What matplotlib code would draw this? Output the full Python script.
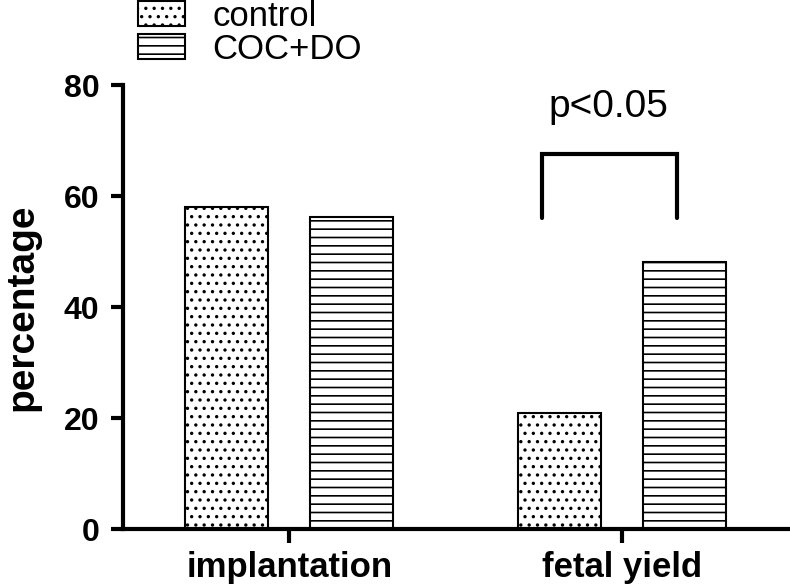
import matplotlib.pyplot as plt
from matplotlib.patches import Patch

# Data
categories = ['implantation', 'fetal yield']
control = [58.0, 20.9]
coc_do = [56.2, 48.1]
series_labels = ['control', 'COC+DO']
y_ticks = [0, 20, 40, 60, 80]

plt.rcParams['font.family'] = ['Liberation Sans', 'DejaVu Sans']
plt.rcParams['hatch.linewidth'] = 1.2

fig = plt.figure(figsize=(7.9, 5.88), dpi=100)
ax = fig.add_axes([0.1557, 0.1003, 0.8418, 0.7551])

x = list(range(len(categories)))
w = 0.25
off = 0.1875
ax.bar([i - off for i in x], control, width=w, color='white', edgecolor='black',
       linewidth=1.5, hatch='..')
ax.bar([i + off for i in x], coc_do, width=w, color='white', edgecolor='black',
       linewidth=1.5, hatch='--')

# significance bracket
ax.plot([0.76, 0.76, 1.165, 1.165], [56, 67.6, 67.6, 56], color='black',
        lw=3, solid_capstyle='round', solid_joinstyle='miter')
ax.text(0.96, 74.2, 'p<0.05', ha='center', va='baseline', fontsize=28)

ax.set_xlim(-0.5, 1.5)
ax.set_ylim(0, 80)
ax.set_xticks(x)
ax.set_xticklabels(categories, fontsize=25, fontweight='bold')
ax.set_yticks(y_ticks)
ax.set_yticklabels([str(t) for t in y_ticks], fontsize=23, fontweight='bold')
ax.tick_params(axis='y', length=9, width=3, pad=8)
ax.tick_params(axis='x', length=10, width=3, pad=6)
for s in ['top', 'right']:
    ax.spines[s].set_visible(False)
for s in ['left', 'bottom']:
    ax.spines[s].set_linewidth(3)
ax.set_ylabel('percentage', fontsize=28, fontweight='bold', va='center')
ax.yaxis.set_label_coords(-0.152, 0.5)

handles = [Patch(facecolor='white', edgecolor='black', hatch='..', linewidth=1.5),
           Patch(facecolor='white', edgecolor='black', hatch='--', linewidth=1.5)]
fig.legend(handles, series_labels, loc='upper left', bbox_to_anchor=(138 / 790, 1.0),
           frameon=False, fontsize=25, labelspacing=0.0, handlelength=1.35,
           handleheight=0.72, handletextpad=0.8, borderpad=0.0, borderaxespad=0.0)

fig.savefig('out.png', dpi=100)
